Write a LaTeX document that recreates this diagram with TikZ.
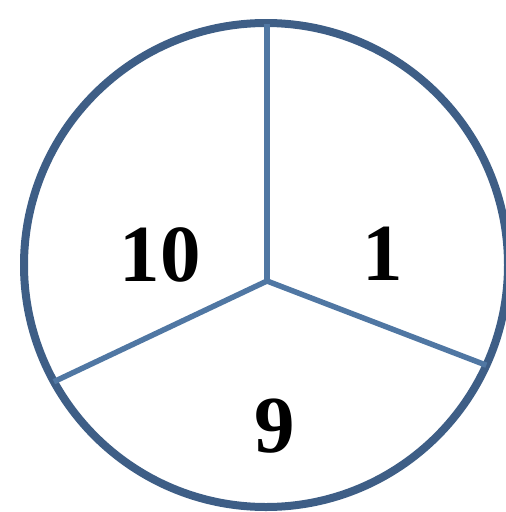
\documentclass[tikz,border=0pt]{standalone}
\usepackage{fontspec}
\setmainfont{Liberation Serif}
\definecolor{rimblue}{HTML}{3E5E86}
\definecolor{spokeblue}{HTML}{5077A3}
\begin{document}
\begin{tikzpicture}[x=1pt,y=-1pt,
  rim/.style={draw=rimblue,line width=8pt},
  spoke/.style={draw=spokeblue,line width=5.5pt},
  num/.style={inner sep=0pt,font=\fontsize{81}{81}\selectfont\bfseries}]
\useasboundingbox (0,0) rectangle (506,512);
\coordinate (c) at (266,265);
\draw[rim] (c) circle[radius=242];
\coordinate (hub) at (267,281);
\coordinate (top) at (267,24);
\coordinate (right) at (486.3,365.2);
\coordinate (left) at (53.9,381.7);
\draw[spoke] (top) -- (hub);
\draw[spoke] (right) -- (hub) -- (left);
\node[num] (n10) at (160,255) {10};
\node[num] (n1) at (383,254) {1};
\node[num] (n9) at (275,426) {9};
\end{tikzpicture}
\end{document}
